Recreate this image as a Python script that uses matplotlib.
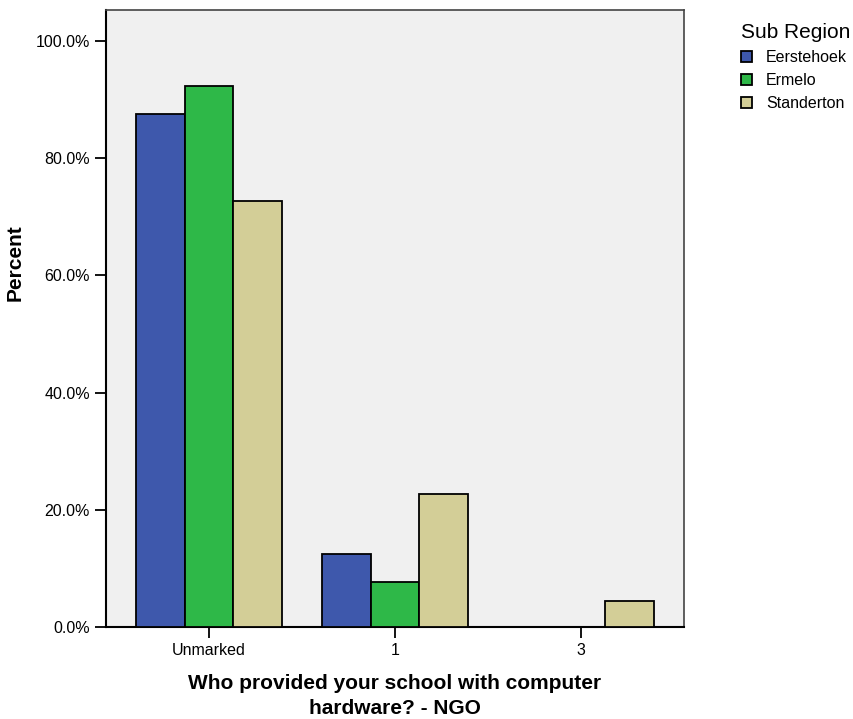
import numpy as np
import matplotlib
matplotlib.use("Agg")
import matplotlib.pyplot as plt
from matplotlib.patches import Patch

plt.rcParams['font.family'] = ['Liberation Sans', 'DejaVu Sans']

categories = ["Unmarked", "1", "3"]
regions = ["Eerstehoek", "Ermelo", "Standerton"]
eerstehoek = [87.5, 12.5, 0.0]
ermelo = [92.3, 7.7, 0.0]
standerton = [72.7, 22.7, 4.5]
colours = ["#3E58AC", "#2EB848", "#D3CE97"]

fig = plt.figure(figsize=(8.54, 7.19), dpi=100)
ax = fig.add_axes([0.1241, 0.128, 0.6768, 0.858])
ax.set_facecolor("#F0F0F0")

x = np.arange(len(categories))
width = 0.263
for i, (vals, c) in enumerate(zip([eerstehoek, ermelo, standerton], colours)):
    ax.bar(x + (i - 1) * width, vals, width, color=c, edgecolor="black",
           linewidth=1.3, label=regions[i], zorder=3)

ax.set_xlim(-0.554, 2.554)
ax.set_ylim(0, 105.3)
ax.set_yticks([0, 20, 40, 60, 80, 100])
ax.set_yticklabels([f"{v:.1f}%" for v in [0, 20, 40, 60, 80, 100]])
ax.set_xticks(x)
ax.set_xticklabels(categories)
ax.tick_params(axis='both', labelsize=11.5, length=8, width=1.3, color="black")

for s in ["top", "right"]:
    ax.spines[s].set_color("#444444")
    ax.spines[s].set_linewidth(1.2)
ax.spines["left"].set_linewidth(1.5)
ax.spines["bottom"].set_linewidth(1.5)

ax.set_ylabel("Percent", fontsize=15, fontweight="bold")
ax.yaxis.set_label_coords(-0.140, 0.59)
ax.set_xlabel("Who provided your school with computer\nhardware? - NGO",
              fontsize=15, fontweight="bold", linespacing=1.35)
ax.xaxis.set_label_coords(0.5, -0.077)

handles = [Patch(facecolor=c, edgecolor="black", linewidth=1.3, label=r)
           for c, r in zip(colours, regions)]
leg = fig.legend(handles=handles, title="Sub Region", loc="upper left",
                 bbox_to_anchor=(0.868, 0.968), frameon=False, fontsize=11.5,
                 title_fontsize=15, handlelength=0.65, handleheight=0.65,
                 handletextpad=0.9, labelspacing=0.5, borderaxespad=0,
                 borderpad=0)
leg._legend_box.align = "left"

fig.savefig("out.png", dpi=100)
